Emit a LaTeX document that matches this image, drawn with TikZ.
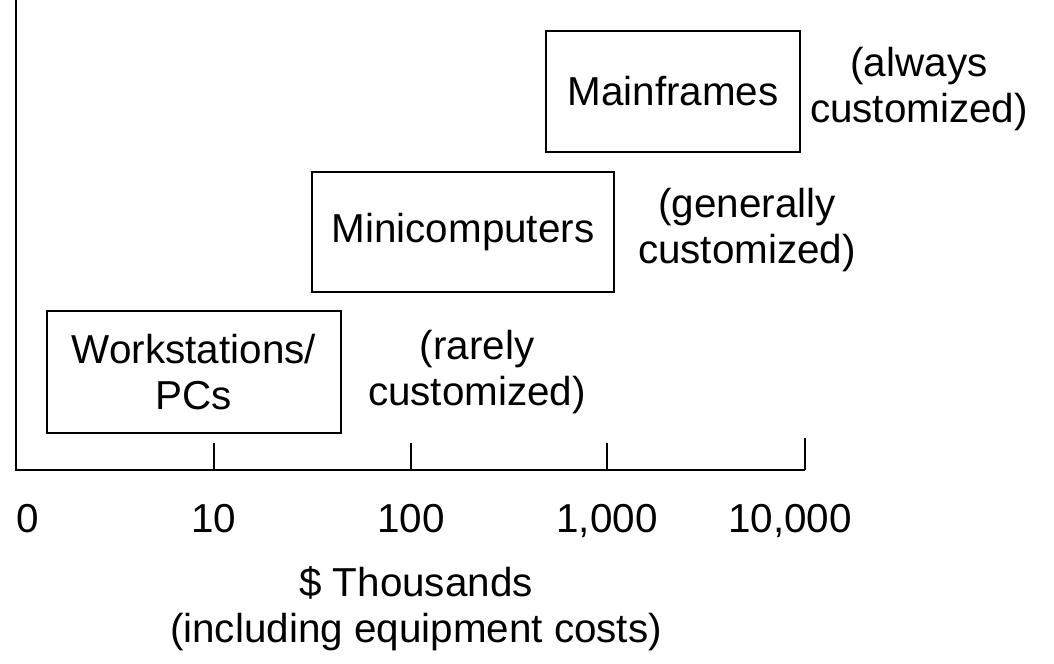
\documentclass[tikz,border=0pt]{standalone}
\usepackage{fontspec}
\setmainfont{Liberation Sans}

\begin{document}
\begin{tikzpicture}[x=0.02cm, y=-0.02cm, line width=1.5pt]
		\tikzstyle{every node}=[align=center, font=\fontsize{23}{26}\selectfont]
		\tikzstyle{classbox}=[draw, line width=1.5pt, inner sep=0pt]
		\tikzstyle{ticklabel}=[anchor=base, inner sep=0pt]
			\useasboundingbox (0, 0) rectangle (1054, 663);

			% axes and ticks
			\coordinate (top) at (16, 0);
			\coordinate (origin) at (16, 470);
			\coordinate (end) at (805, 470);
			\draw (top) -- (origin) -- (end);
			\foreach \x in {214, 411, 607}
				\draw (\x, 443) -- (\x, 470);
			\draw (805, 438) -- (end);

			% computer classes
			\node[classbox, minimum width=5.88cm, minimum height=2.44cm] (pcs) at (194, 372) {Workstations/\\PCs};
			\node[classbox, minimum width=6.04cm, minimum height=2.40cm] (mini) at (463, 232) {Minicomputers};
			\node[classbox, minimum width=5.08cm, minimum height=2.42cm] (main) at (673, 91.5) {Mainframes};

			\node (rarely) at (477, 372) {(rarely\\customized)};
			\node (generally) at (747, 230) {(generally\\customized)};
			\node (always) at (919, 89) {(always\\customized)};

			% tick labels
			\node[ticklabel] (t0) at (28, 532) {0};
			\node[ticklabel] (t10) at (214, 532) {10};
			\node[ticklabel] (t100) at (411, 532) {100};
			\node[ticklabel] (t1000) at (607, 532) {1,000};
			\node[ticklabel] (t10000) at (790, 532) {10,000};

			\node (unit) at (416, 609) {\$ Thousands\\(including equipment costs)};
		\end{tikzpicture}
\end{document}
